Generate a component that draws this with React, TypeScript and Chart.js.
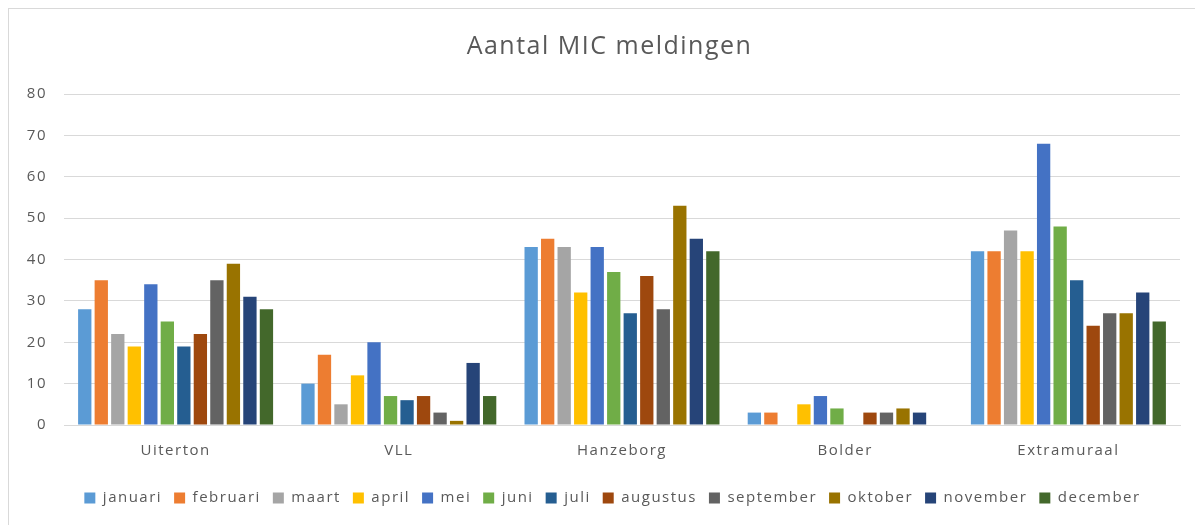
import React, { useEffect, useRef } from "react";
import { Chart, registerables } from "chart.js";

Chart.register(...registerables);

const categories = ["Uiterton", "VLL", "Hanzeborg", "Bolder", "Extramuraal"];
const months = [
  "januari", "februari", "maart", "april", "mei", "juni",
  "juli", "augustus", "september", "oktober", "november", "december",
];
const januari = [28, 10, 43, 3, 42];
const februari = [35, 17, 45, 3, 42];
const maart = [22, 5, 43, 0, 47];
const april = [19, 12, 32, 5, 42];
const mei = [34, 20, 43, 7, 68];
const juni = [25, 7, 37, 4, 48];
const juli = [19, 6, 27, 0, 35];
const augustus = [22, 7, 36, 3, 24];
const september = [35, 3, 28, 3, 27];
const oktober = [39, 1, 53, 4, 27];
const november = [31, 15, 45, 3, 32];
const december = [28, 7, 42, 0, 25];
const seriesValues = [
  januari, februari, maart, april, mei, juni,
  juli, augustus, september, oktober, november, december,
];
const colors = [
  "#5B9BD5", "#ED7D31", "#A5A5A5", "#FFC000", "#4472C4", "#70AD47",
  "#255E91", "#9E480E", "#636363", "#997300", "#264478", "#43682B",
];
const yTicks = [0, 10, 20, 30, 40, 50, 60, 70, 80];

const FONT = "'Open Sans', 'Noto Sans', sans-serif";
const TEXT = "#595959";

const spacingPlugin = {
  id: "spacing",
  beforeLayout(chart: any) {
    chart.ctx.letterSpacing = "1.5px";
  },
  afterLayout(chart: any) {
    const l = chart.legend;
    if (l) {
      l.left += 18;
      l.right += 18;
    }
    const t = chart.titleBlock;
    if (t) {
      t.left += 15;
      t.right += 15;
    }
  },
  beforeDraw(chart: any) {
    chart.ctx.letterSpacing = "1.5px";
  },
};

export default function App() {
  const ref = useRef<HTMLCanvasElement | null>(null);

  useEffect(() => {
    document.body.style.overflow = "hidden";
    if (!ref.current) return;
    const chart = new Chart(ref.current, {
      type: "bar",
      data: {
        labels: categories,
        datasets: months.map((m, i) => ({
          label: m,
          data: seriesValues[i],
          backgroundColor: colors[i],
          borderWidth: 0,
          categoryPercentage: 0.888,
          barPercentage: 0.806,
        })),
      },
      plugins: [spacingPlugin],
      options: {
        responsive: false,
        animation: false,
        layout: { padding: { left: 0, right: 23, top: 0, bottom: 9.5 } },
        plugins: {
          title: {
            display: true,
            text: "Aantal MIC meldingen",
            color: TEXT,
            font: { family: FONT, size: 25, weight: "normal" },
            padding: { top: 23, bottom: 32 },
          },
          legend: {
            position: "bottom",
            labels: {
              color: TEXT,
              font: { family: FONT, size: 15 },
              boxWidth: 11,
              boxHeight: 11,
              padding: 12,
            },
          },
          tooltip: { enabled: false },
        },
        scales: {
          x: {
            grid: { display: false, drawTicks: false },
            border: { display: true, color: "#d9d9d9" },
            ticks: {
              color: TEXT,
              font: { family: FONT, size: 15 },
              padding: 17,
            },
            afterFit(scale: any) {
              scale.height = 53.5;
            },
          },
          y: {
            min: 0,
            max: 80,
            afterBuildTicks(scale: any) {
              scale.ticks = yTicks.map((v) => ({ value: v }));
            },
            grid: { color: "#d9d9d9", lineWidth: 1, drawTicks: false },
            border: { display: false },
            ticks: {
              color: TEXT,
              font: { family: FONT, size: 15 },
              padding: 17,
            },
            afterFit(scale: any) {
              scale.width = 55;
            },
          },
        },
      },
    });
    return () => chart.destroy();
  }, []);

  return (
    <div
      style={{
        width: 1195,
        height: 517,
        boxSizing: "border-box",
        borderTop: "1px solid #d9d9d9",
        borderLeft: "1px solid #d9d9d9",
        overflow: "hidden",
        background: "#fff",
      }}
    >
      <canvas ref={ref} width={1194} height={516} style={{ display: "block" }} />
    </div>
  );
}
